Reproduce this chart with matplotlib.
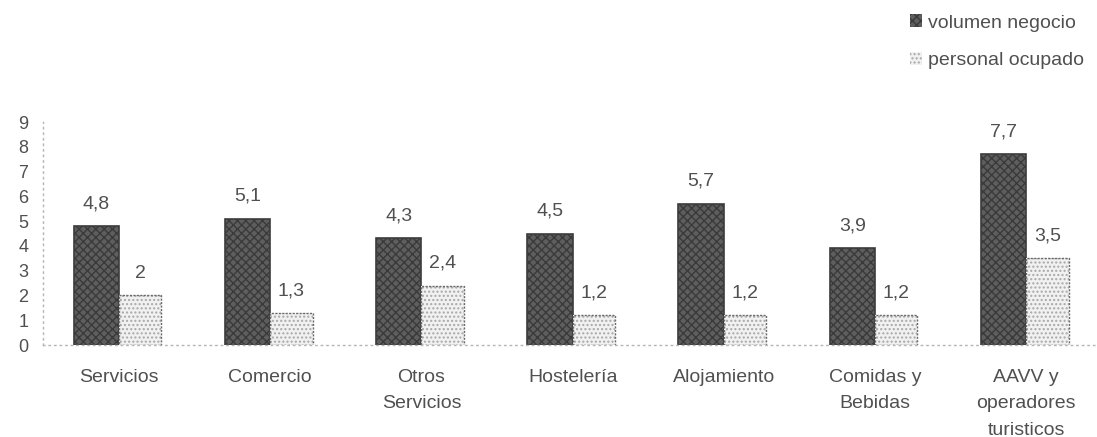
import matplotlib.pyplot as plt
import numpy as np

# -------------------------
# Data
# -------------------------
categorias = ["Servicios", "Comercio", "Otros\nServicios", "Hostelería",
              "Alojamiento", "Comidas y\nBebidas", "AAVV y\noperadores\nturisticos"]
volumen_negocio = [4.8, 5.1, 4.3, 4.5, 5.7, 3.9, 7.7]
personal_ocupado = [2.0, 1.3, 2.4, 1.2, 1.2, 1.2, 3.5]
y_ticks = list(range(0, 10))

TEXT = "#505050"
plt.rcParams["font.family"] = ["Liberation Sans", "DejaVu Sans"]


def fmt(v):
    # decimal comma, no trailing ",0"
    return f"{v:g}".replace(".", ",")


fig = plt.figure(figsize=(10.97, 4.37), dpi=100)
ax = fig.add_axes([0.0396, 0.2105, 0.9648, 0.5103])

x = np.arange(len(categorias))
w_dark = 0.30
w_light = 0.28

# -------------------------
# Bars (two layers each: texture + outline)
# -------------------------
dark = ax.bar(x - w_dark, volumen_negocio, width=w_dark, align="edge",
              color="#5e5e5e", edgecolor="#3a3a3a", hatch="xxxx", linewidth=0)
ax.bar(x - w_dark, volumen_negocio, width=w_dark, align="edge",
       fill=False, edgecolor="#3c3c3c", linewidth=1.2)

light = ax.bar(x, personal_ocupado, width=w_light, align="edge",
               color="#f1f1f1", edgecolor="#a8a8a8", hatch="....", linewidth=0)
ax.bar(x, personal_ocupado, width=w_light, align="edge",
       fill=False, edgecolor="#6a6a6a", linewidth=1.0, linestyle=(0, (1.5, 1)))

# value labels above each bar
for xi, v in zip(x, volumen_negocio):
    ax.text(xi - w_dark / 2, v + 0.9, fmt(v), ha="center", va="center",
            fontsize=14, color=TEXT, clip_on=False)
for xi, v in zip(x, personal_ocupado):
    ax.text(xi + w_light / 2, v + 0.9, fmt(v), ha="center", va="center",
            fontsize=14, color=TEXT, clip_on=False)

# -------------------------
# Axes styling
# -------------------------
ax.set_xlim(-0.5, len(categorias) - 0.5)
ax.set_ylim(0, 9)
ax.set_yticks(y_ticks)
ax.set_yticklabels([str(t) for t in y_ticks], fontsize=13, color=TEXT)
ax.set_xticks(x)
ax.set_xticklabels(categorias, fontsize=14, color=TEXT, linespacing=1.75)
ax.tick_params(axis="both", length=0)
ax.tick_params(axis="y", pad=11)
ax.tick_params(axis="x", pad=17)

for side in ["top", "right"]:
    ax.spines[side].set_visible(False)
for side in ["left", "bottom"]:
    ax.spines[side].set_color("#b5b5b5")
    ax.spines[side].set_linestyle((0, (1, 3)))
    ax.spines[side].set_linewidth(1)

# -------------------------
# Legend (top right)
# -------------------------
fig.legend([dark, light], ["volumen negocio", "personal ocupado"],
           loc="upper left", bbox_to_anchor=(0.822, 0.985), frameon=False,
           fontsize=14, labelcolor=TEXT, handlelength=0.65, handleheight=0.65,
           handletextpad=0.3, labelspacing=1.05, borderaxespad=0)

fig.savefig("out.png", dpi=100)
